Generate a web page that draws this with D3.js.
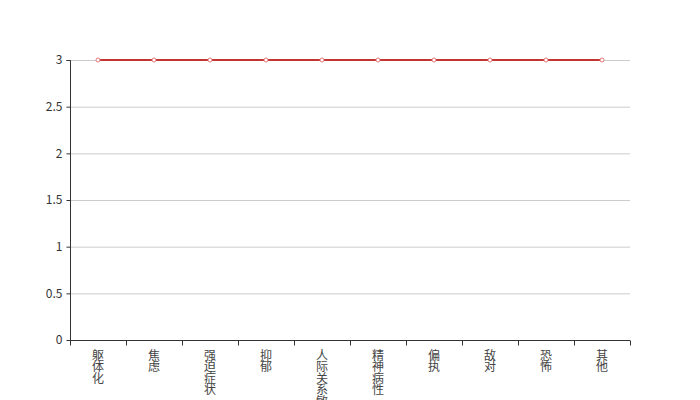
<!DOCTYPE html>
<html><head><meta charset="utf-8">
<script src="https://cdn.jsdelivr.net/npm/d3@7"></script>
<style>body{margin:0;background:#fff}svg{display:block;overflow:visible}</style>
</head><body><svg id="c" width="700" height="400"></svg>
<script>
const categories = ["躯体化","焦虑","强迫症状","抑郁","人际关系敏感","精神病性","偏执","敌对","恐怖","其他"];
const values = [3,3,3,3,3,3,3,3,3,3];
const yTicks = [0,0.5,1,1.5,2,2.5,3];

const svg = d3.select("#c");
const m = {l:70, r:70, t:60, b:60};
const W = 700, H = 400;
const x = d3.scaleBand().domain(categories).range([m.l, W - m.r]);
const y = d3.scaleLinear().domain([0,3]).range([H - m.b, m.t]);
const font = "'Microsoft YaHei','Noto Sans CJK SC',sans-serif";

// grid
svg.append("g").selectAll("line").data(yTicks.filter(d=>d>0)).join("line")
  .attr("x1", m.l).attr("x2", W - m.r)
  .attr("y1", d=>y(d)+0.5).attr("y2", d=>y(d)+0.5)
  .attr("stroke", "#ccc").attr("stroke-width", 1);

// y axis
const ya = svg.append("g").attr("transform", `translate(${m.l+0.5},0)`)
  .call(d3.axisLeft(y).tickValues(yTicks).tickSize(4).tickPadding(4).tickFormat(d=>String(d)));
ya.select(".domain").attr("stroke", "#333").attr("d", `M-4,${y(3)+0.5}H0V${y(0)+0.5}`);
ya.selectAll(".tick line").attr("stroke", "#333");
ya.selectAll(".tick").attr("transform", d=>`translate(0,${y(d)+0.5})`);
ya.selectAll("text").attr("fill", "#333").style("font-family", font).style("font-size", "12px");

// x axis
const xg = svg.append("g").attr("transform", `translate(0,${y(0)+0.5})`);
xg.append("line").attr("x1", m.l).attr("x2", W - m.r).attr("stroke", "#333");
const edges = categories.map(c=>x(c)).concat([W - m.r]);
xg.selectAll("line.tk").data(edges).join("line").attr("class","tk")
  .attr("x1", d=>Math.round(d)+0.5).attr("x2", d=>Math.round(d)+0.5)
  .attr("y1", 0).attr("y2", 5).attr("stroke", "#333");
const lbl = xg.selectAll("text").data(categories).join("text")
  .attr("transform", d=>`translate(${x(d)+x.bandwidth()/2},9)`)
  .attr("fill", "#444").style("font-family", font).style("font-size", "12px")
  .attr("text-anchor", "middle");
lbl.each(function(d){
  const t = d3.select(this);
  Array.from(d).forEach((ch,i)=>{
    t.append("tspan").attr("x", 0).attr("y", 10 + i*11.5).text(ch);
  });
});

// line
const line = d3.line().x((d,i)=>x(categories[i])+x.bandwidth()/2).y(d=>y(d));
svg.append("path").datum(values).attr("d", line)
  .attr("fill", "none").attr("stroke", "#c23531").attr("stroke-width", 2);
svg.append("g").selectAll("circle").data(values).join("circle")
  .attr("cx", (d,i)=>x(categories[i])+x.bandwidth()/2).attr("cy", d=>y(d))
  .attr("r", 2).attr("fill", "#fff").attr("stroke", "#e0787a").attr("stroke-width", 1);
</script></body></html>
